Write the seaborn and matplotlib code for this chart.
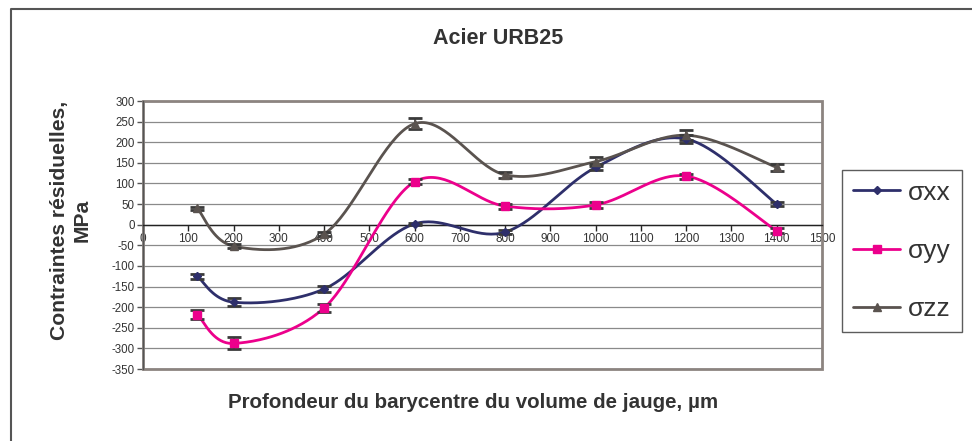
import numpy as np
import pandas as pd
import matplotlib
matplotlib.use("Agg")
import matplotlib.pyplot as plt
from matplotlib.lines import Line2D
from matplotlib.patches import Rectangle
import seaborn as sns

# depth of gauge volume barycentre (um)
depth = [120, 200, 400, 600, 800, 1000, 1200, 1400]

# residual stresses (MPa) and error half-widths
sxx = [-125, -188, -156, 2, -18, 139, 208, 50]
syy = [-218, -288, -202, 104, 45, 48, 118, -15]
szz = [40, -52, -23, 245, 121, 153, 217, 139]
sxx_err = [6.5, 9, 7, 2, 5.5, 7, 9, 5]
syy_err = [11, 14.5, 10.5, 6.5, 6, 6.5, 6, 6]
szz_err = [4, 4, 5, 13, 8, 10, 12, 9]

labels = ["σxx", "σyy", "σzz"]
colors = ["#2e2f6b", "#ec008c", "#5a534f"]
markers = ["D", "s", "^"]
msizes = [4, 6, 6]


def smooth(x, y, n=40):
    # Excel-like smoothed line: Catmull-Rom bezier through the points
    p = np.column_stack([x, y]).astype(float)
    p = np.vstack([p[0], p, p[-1]])
    out = []
    t = np.linspace(0, 1, n)[:, None]
    for i in range(1, len(p) - 2):
        p0, p1, p2, p3 = p[i - 1], p[i], p[i + 1], p[i + 2]
        c1 = p1 + (p2 - p0) / 6
        c2 = p2 - (p3 - p1) / 6
        seg = ((1 - t) ** 3) * p1 + 3 * ((1 - t) ** 2) * t * c1 + 3 * (1 - t) * t ** 2 * c2 + t ** 3 * p2
        out.append(seg if i == 1 else seg[1:])
    return np.vstack(out)


sns.set_theme(style="white")
plt.rcParams["font.family"] = ["Liberation Sans", "DejaVu Sans"]
plt.rcParams["axes.unicode_minus"] = False

fig = plt.figure(figsize=(9.72, 4.41), dpi=100)
ax = fig.add_axes([143 / 972, 1 - 369 / 441, 679 / 972, 268 / 441])

# smoothed curves via seaborn
rows = []
for lab, ys in zip(labels, [sxx, syy, szz]):
    c = smooth(depth, ys)
    rows.append(pd.DataFrame({"x": c[:, 0], "y": c[:, 1], "serie": lab}))
curves = pd.concat(rows)
sns.lineplot(data=curves, x="x", y="y", hue="serie", palette=dict(zip(labels, colors)),
             sort=False, estimator=None, units="serie", linewidth=2, legend=False, ax=ax, zorder=3)

for ys, err, col, mk, ms in zip([sxx, syy, szz], [sxx_err, syy_err, szz_err], colors, markers, msizes):
    ax.errorbar(depth, ys, yerr=err, fmt="none", ecolor="#3a3a3a", elinewidth=1.2,
                capsize=5, capthick=2, zorder=4)
    ax.plot(depth, ys, linestyle="none", marker=mk, color=col, markersize=ms, zorder=5)

ax.set_xlim(0, 1500)
ax.set_ylim(-350, 300)
ax.set_xticks(np.arange(0, 1501, 100))
ax.set_yticks(np.arange(-350, 301, 50))
ax.yaxis.grid(True, color="#8a8a8a", linewidth=0.9)
ax.xaxis.grid(False)
ax.set_axisbelow(True)

for s in ["top", "right"]:
    ax.spines[s].set_visible(False)
ax.spines["bottom"].set_position(("data", 0))
ax.spines["bottom"].set_color("#222222")
ax.spines["bottom"].set_linewidth(1)
ax.spines["left"].set_color("#555555")
ax.spines["left"].set_linewidth(1)
ax.add_patch(Rectangle((0, 0), 1, 1, transform=ax.transAxes, fill=False,
                       edgecolor="#8c8480", linewidth=2, clip_on=False, zorder=1))

ax.tick_params(axis="x", direction="out", length=4, width=1, color="#222222",
               labelsize=8.5, labelcolor="#333333", pad=2, bottom=True)
ax.tick_params(axis="y", direction="out", length=4, width=1, color="#555555",
               labelsize=8.3, labelcolor="#333333", pad=2, left=True)
ax.set_xlabel("")
ax.set_ylabel("")

fig.text(498 / 972, 1 - 38 / 441, "Acier URB25", ha="center", va="center",
         fontsize=15.5, fontweight="bold", color="#333333")
fig.text(473 / 972, 1 - 402 / 441, "Profondeur du barycentre du volume de jauge, µm",
         ha="center", va="center", fontsize=14.8, fontweight="bold", color="#333333")
fig.text(71 / 972, 1 - 220 / 441, "Contraintes résiduelles,\nMPa", ha="center", va="center",
         rotation=90, fontsize=15.2, fontweight="bold", color="#333333", linespacing=1.25)

handles = [Line2D([], [], color=c, marker=m, markersize=ms, linewidth=2)
           for c, m, ms in zip(colors, markers, msizes)]
leg = fig.legend(handles, labels, loc="center", bbox_to_anchor=(902 / 972, 1 - 251 / 441),
                 frameon=True, fancybox=False, fontsize=19, handlelength=1.8,
                 labelspacing=1.3, handletextpad=0.3, borderpad=0.42, labelcolor="#333333")
leg.get_frame().set_edgecolor("#333333")
leg.get_frame().set_linewidth(1)

# outer chart border (top and left visible)
fig.add_artist(Line2D([11 / 972, 11 / 972, 1], [0, 1 - 9 / 441, 1 - 9 / 441],
                      color="#555555", linewidth=1.5, transform=fig.transFigure))

fig.savefig("out.png", dpi=100)
